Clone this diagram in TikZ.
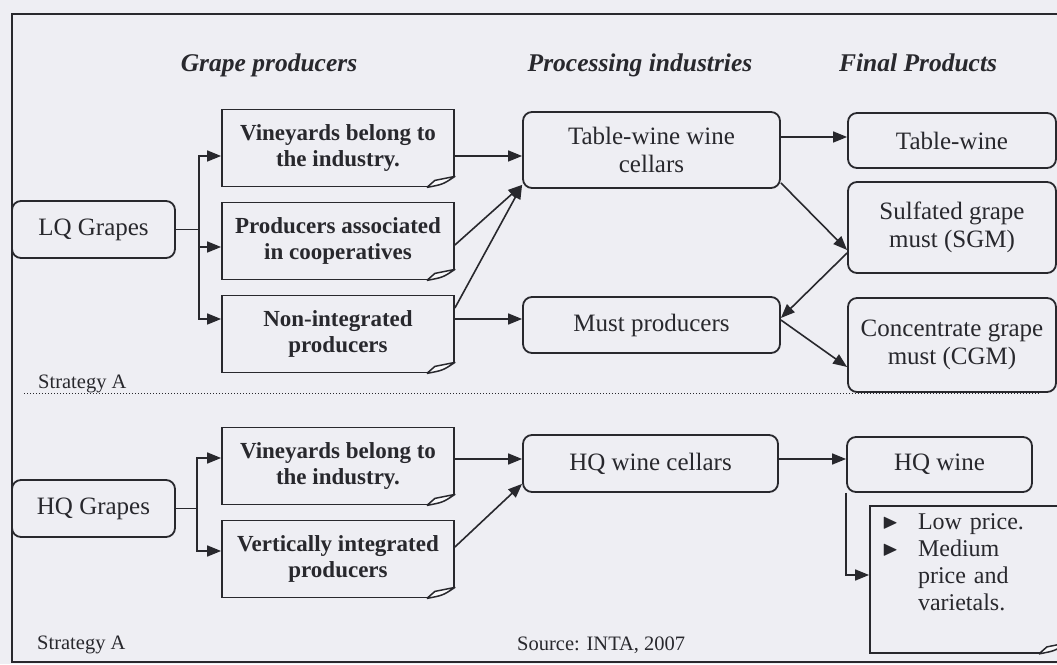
\documentclass[tikz,border=0pt]{standalone}
\usepackage{amssymb}
\usepackage{fontspec}
\setmainfont{Liberation Serif}
\usepackage{tikz}
\usetikzlibrary{arrows.meta}
\definecolor{paper}{RGB}{238,238,243}
\definecolor{ink}{RGB}{40,40,45}
\tikzstyle{grapes} = [rectangle, rounded corners=9pt,
minimum width=163pt,
minimum height=57pt,
text centered,
draw=ink, line width=1.8pt,
font=\fontsize{25}{29}\selectfont]
\tikzstyle{doc} = [rectangle,
minimum width=232pt,
minimum height=77pt,
align=center,
draw=ink, line width=1.8pt,
font=\fontsize{23}{26}\selectfont\bfseries]
\tikzstyle{cellar} = [rectangle, rounded corners=9pt,
minimum width=257pt,
minimum height=56pt,
align=center,
draw=ink, line width=1.8pt,
font=\fontsize{25}{28}\selectfont]
\tikzstyle{product} = [rectangle, rounded corners=9pt,
minimum width=208pt,
minimum height=55pt,
align=center,
draw=ink, line width=1.8pt,
font=\fontsize{25}{28}\selectfont]
\tikzstyle{head} = [anchor=base, font=\fontsize{25.5}{30}\selectfont\bfseries\itshape]
\tikzstyle{small} = [anchor=base west, inner sep=0pt, font=\fontsize{20.5}{24}\selectfont]
\tikzstyle{arrow} = [line width=1.6pt, draw=ink, -{Triangle[length=14pt,width=11pt]}]
\newcommand{\notebullet}{\makebox[36pt][l]{\raisebox{0.5pt}{\fontsize{21}{21}\selectfont$\blacktriangleright$}}}

\begin{document}
\begin{tikzpicture}[x=1pt, y=1pt, node distance=93pt, every node/.style={text=ink}]

    \fill [paper] (0,0) rectangle (1057,664);
    \useasboundingbox (0,0) rectangle (1057,664);
    \draw [ink, line width=1.8pt] (12,2) rectangle (1075,650);

    % column titles
    \node (hgrape) [head] at (269,592) {Grape producers};
    \node (hproc) [head] at (640,592) {Processing industries};
    \node (hfinal) [head] at (918,592) {Final Products};

    % low quality grapes
    \node (lq) [grapes] at (93.5,434.5) {LQ Grapes};
    \node (vinA) [doc] at (338,516) {Vineyards belong to\\the industry.};
    \node (coop) [doc, below of=vinA] {Producers associated\\in cooperatives};
    \node (nonint) [doc, below of=coop] {Non-integrated\\producers};
    \node (twcel) [cellar, minimum height=76pt] at (651.5,514) {Table-wine wine\\cellars};
    \node (mustp) [cellar] at (651.5,339) {Must producers};
    \node (tw) [product] at (952,523.5) {Table-wine};
    \node (sgm) [product, minimum height=91pt] at (952,436.5) {Sulfated grape\\must (SGM)};
    \node (cgm) [product, minimum height=94pt] at (952,319) {Concentrate grape\\must (CGM)};

    \node (stratA) [small] at (38,275) {Strategy A};
    \draw [ink, line width=1pt, dotted] (24,270) -- (1040,270);

    % high quality grapes
    \node (hq) [grapes] at (93.5,155.5) {HQ Grapes};
    \node (vinB) [doc] at (338,198) {Vineyards belong to\\the industry.};
    \node (vint) [doc, below of=vinB] {Vertically integrated\\producers};
    \node (hqcel) [cellar, minimum width=255pt, minimum height=57pt] at (650.5,200.5) {HQ wine cellars};
    \node (hqw) [product, minimum width=185pt] at (939.5,199.5) {HQ wine};
    \node (notes) [doc, font=\fontsize{24}{27}\selectfont, minimum width=196pt, minimum height=147pt,
        text width=172pt, align=left] at (968,84.5)
        {\notebullet Low price.\\ \notebullet Medium\\ \hspace*{36pt}price and\\ \hspace*{36pt}varietals.\\ \strut};

    \node (stratB) [small] at (37,15) {Strategy A};
    \node (src) [small] at (517,14) {Source: INTA, 2007};

    % folded corners
    \foreach \n in {vinA,coop,nonint,vinB,vint,notes} {
        \fill [paper] ([xshift=-28pt,yshift=-1.5pt]\n.south east) -- ([xshift=1.5pt,yshift=-1.5pt]\n.south east)
            -- ([xshift=1.5pt,yshift=11pt]\n.south east) -- cycle;
        \draw [ink, line width=1.5pt, line join=round, fill=white!60!paper] ([xshift=-28pt]\n.south east)
            -- ([xshift=-20pt,yshift=7pt]\n.south east) -- ([yshift=11pt]\n.south east)
            .. controls ([xshift=-12pt,yshift=3pt]\n.south east) .. ([xshift=-28pt]\n.south east);
    }

    \draw [arrow] (lq.east) -- ++(23,0) |- ([yshift=-8pt]vinA.west);
    \draw [arrow] (lq.east) -- ++(23,0) |- ([yshift=-6pt]coop.west);
    \draw [arrow] (lq.east) -- ++(23,0) |- ([yshift=15pt]nonint.west);
    \draw [arrow] ([yshift=-8pt]vinA.east) -- ([yshift=-8pt]vinA.east -| twcel.west);
    \draw [arrow] ([yshift=-4pt]coop.east) -- ([yshift=4pt]twcel.south west);
    \draw [arrow] ([yshift=26pt]nonint.east) -- ([yshift=4pt]twcel.south west);
    \draw [arrow] ([yshift=15pt]nonint.east) -- ([yshift=15pt]nonint.east -| mustp.west);
    \draw [arrow] ([yshift=13pt]twcel.east) -- ([yshift=13pt]twcel.east -| tw.west);
    \draw [arrow] ([yshift=6pt]twcel.south east) -- ([yshift=-22.5pt]sgm.west);
    \draw [arrow] ([yshift=-25.5pt]sgm.west) -- ([yshift=7pt]mustp.east);
    \draw [arrow] ([yshift=5pt]mustp.east) -- ([yshift=-22pt]cgm.west);

    \draw [arrow] (hq.east) -- ++(21,0) |- ([yshift=8pt]vinB.west);
    \draw [arrow] (hq.east) -- ++(21,0) |- ([yshift=8pt]vint.west);
    \draw [arrow] ([yshift=7pt]vinB.east) -- ([yshift=7pt]vinB.east -| hqcel.west);
    \draw [arrow] ([yshift=12pt]vint.east) -- ([yshift=9pt]hqcel.south west);
    \draw [arrow] ([yshift=4.5pt]hqcel.east) -- ([yshift=4.5pt]hqcel.east -| hqw.west);
    \draw [arrow] (hqw.south west) |- ([yshift=4.5pt]notes.west);

\end{tikzpicture}
\end{document}
